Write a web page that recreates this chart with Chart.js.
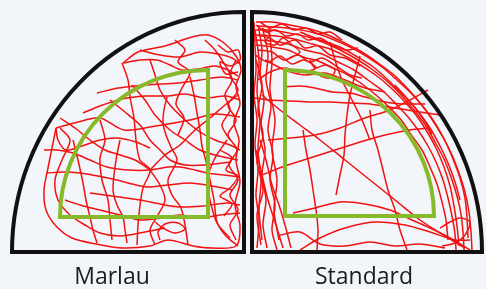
<!DOCTYPE html>
<html>
<head>
<meta charset="utf-8">
<script src="https://cdn.jsdelivr.net/npm/chart.js@4"></script>
<style>
  body { margin: 0; background: #f2f5f9; }
  #wrap { position: relative; width: 486px; height: 289px; }
  .lbl { position: absolute; top: 264px; font: 23px "Open Sans", "Noto Sans", sans-serif; line-height: 22px; color: #1c1c1c; text-align: center; }
</style>
</head>
<body>
<div id="wrap">
  <canvas id="tracks"></canvas>
  <div class="lbl" style="left:12px;width:200px">Marlau</div>
  <div class="lbl" style="left:264px;width:200px">Standard</div>
</div>
<script>
// panel names
var panels = ["Marlau", "Standard"];

// swim paths, [x, y] in picture units
var marlauTracks = [
  [[123,63],[138,52],[165,46],[192,37],[208,35],[224,43],[236,56],[241,70],[236,86],[240,104],[234,122],[239,140],[236,160],[240,182],[235,205],[240,226],[236,246],[212,248],[193,246],[168,240],[150,246],[122,248],[96,244],[72,238],[56,226],[46,210],[44,190],[48,168],[52,148],[56,128]],
  [[56,128],[78,122],[100,118],[124,130],[156,126],[190,120],[215,114],[240,117]],
  [[97,93],[118,88],[135,86],[160,84],[178,83],[200,80],[222,77],[238,80]],
  [[83,113],[100,106],[122,99],[145,96],[168,96],[185,94],[205,98],[226,96],[240,100]],
  [[122,63],[128,80],[130,97],[134,118],[136,140],[140,160],[150,170],[143,188],[140,205],[138,225],[137,245]],
  [[140,50],[160,55],[180,57],[200,52],[218,54],[232,58],[240,64]],
  [[123,63],[140,60],[157,60],[170,65],[182,70],[198,69],[214,66],[228,70],[238,76]],
  [[190,77],[194,95],[197,113],[200,130],[202,146],[207,165],[210,180],[214,200],[217,222],[226,236],[238,246]],
  [[167,97],[164,110],[163,123],[166,135],[171,147],[177,160],[168,180],[172,195],[181,208],[185,225],[188,245]],
  [[44,150],[57,150],[73,153],[90,160],[107,167],[128,170],[150,170],[168,167],[180,167],[195,170],[207,173],[224,175],[240,177]],
  [[47,173],[63,172],[80,173],[98,176],[117,180],[132,184],[147,187],[168,185],[190,183],[212,186],[233,190]],
  [[73,140],[78,160],[83,183],[86,200],[90,217],[93,230],[97,243]],
  [[120,140],[116,160],[113,190],[117,205],[123,217],[125,230],[127,243]],
  [[90,193],[112,196],[140,200],[160,204],[180,207],[203,206],[227,203],[240,205]],
  [[227,140],[215,158],[207,180],[210,200],[217,223],[230,238]],
  [[155,222],[163,228],[175,233],[185,229],[178,223],[165,224],[158,232],[160,240]],
  [[60,128],[70,140],[62,160],[55,180],[58,200],[70,215],[85,225],[100,233],[120,236],[145,232],[165,228]],
  [[100,120],[105,140],[100,158],[102,180],[108,200],[110,220],[112,240]],
  [[150,60],[155,75],[160,90],[170,105],[185,120],[200,132],[215,140],[230,145],[240,150]],
  [[132,85],[145,100],[155,115],[170,130],[185,140],[200,150],[215,155],[238,160]],
  [[110,100],[125,112],[140,125],[150,140],[160,150],[170,160],[185,165],[205,165],[230,162]],
  [[56,128],[58,140],[66,150],[82,146],[100,140],[118,138],[136,142],[150,148]],
  [[65,200],[80,205],[100,210],[120,215],[140,220],[160,218],[180,215],[200,218],[220,215],[240,213]],
  [[205,40],[215,50],[225,65],[232,80],[225,95],[230,110],[222,125],[230,140]],
  [[236,60],[230,75],[238,90],[228,105],[236,120],[228,135],[237,150],[229,165],[238,180],[230,195],[238,210],[230,225],[236,240]],
  [[150,170],[160,185],[165,200],[158,215],[150,230],[155,245]],
  [[150,170],[135,160],[120,155],[105,150],[90,140],[75,128],[60,118]],
  [[150,170],[165,155],[180,145],[195,130],[210,118],[225,105],[238,95]],
  [[218,45],[228,52],[238,50],[240,60],[230,66],[220,62],[226,74],[238,72]],
  [[175,40],[185,50],[178,62],[190,72],[182,88],[176,104],[184,118],[178,135]],
  [[220,150],[232,158],[226,170],[238,176],[230,188],[220,196],[232,204],[224,216]]
];

var standardTracks = [
  [[256,22],[272,22],[290,25],[310,29],[328,35],[345,43],[362,52],[378,63],[394,75],[408,89],[421,104],[433,120],[443,137],[452,155],[459,173],[465,192],[469,212],[471,232],[472,250]],
  [[255,30],[270,30],[289,33],[308,37],[325,43],[342,51],[358,60],[373,70],[388,82],[402,96],[414,110],[426,126],[435,142],[444,159],[451,177],[457,196],[461,214],[463,232],[464,250]],
  [[255,40],[272,41],[288,44],[305,50],[322,54],[338,62],[354,70],[368,80],[383,91],[396,104],[408,117],[418,130],[428,146],[436,162],[443,180],[448,198],[452,216],[455,234],[456,250]],
  [[257,26],[275,27],[295,29],[315,33],[332,39],[350,47],[366,56],[382,67],[397,80],[411,93],[424,108],[435,124],[445,141],[453,159],[460,178],[465,198],[467,218],[468,238]],
  [[258,35],[276,36],[294,39],[312,44],[330,49],[347,57],[362,66],[377,76],[391,88],[404,101],[416,115],[426,130],[436,148],[444,167],[450,186],[454,206],[457,226],[459,246]],
  [[256,45],[272,47],[288,50],[303,57],[318,61],[333,68],[348,75],[362,84],[376,95],[390,108],[402,121],[412,136],[422,150],[430,167],[437,184],[442,202],[446,220],[448,240]],
  [[300,32],[320,40],[340,47],[356,56],[372,66],[386,78],[398,90],[412,104],[424,120],[432,134]],
  [[395,85],[405,96],[417,110],[430,128],[440,146],[448,163],[455,182],[460,200]],
  [[254,22],[255,45],[256,70],[254,95],[257,120],[255,145],[258,170],[256,195],[259,220],[257,248]],
  [[258,25],[262,50],[260,75],[264,100],[261,125],[265,150],[262,175],[266,200],[263,225],[267,248]],
  [[263,30],[268,55],[266,80],[271,105],[268,130],[273,155],[270,180],[275,205],[272,230],[277,250]],
  [[255,30],[259,60],[257,90],[260,120],[258,150],[261,180],[259,210],[262,240]],
  [[269,28],[272,60],[270,90],[275,120],[272,150],[277,180],[274,210],[279,240]],
  [[256,60],[262,85],[258,110],[263,135],[257,160],[263,190],[257,215],[261,245]],
  [[260,140],[266,160],[272,185],[279,205],[285,225],[291,248]],
  [[256,150],[262,175],[268,200],[276,225],[283,248]],
  [[256,35],[270,38],[280,45],[295,40],[305,48],[318,46],[330,55],[345,58],[360,66]],
  [[258,50],[272,52],[284,60],[298,55],[310,62],[322,58],[336,66],[350,75],[362,78]],
  [[262,28],[270,35],[265,42],[275,45],[283,38],[292,45],[300,52],[290,58]],
  [[260,22],[270,28],[282,24],[294,30],[306,28],[318,34],[330,32],[342,40]],
  [[255,55],[268,62],[280,56],[292,64],[304,60],[316,68],[300,72],[285,68],[270,72],[258,80]],
  [[256,25],[266,32],[276,30],[286,36],[298,34],[308,40],[320,38],[332,45],[346,50],[358,48]],
  [[310,60],[315,68],[325,65],[335,70],[330,78],[320,76]],
  [[255,98],[270,100],[290,101],[310,102],[330,102],[350,103],[370,104],[395,108],[420,112],[440,115]],
  [[285,87],[300,86],[315,88],[332,92],[350,93],[365,97],[385,102],[405,104],[425,104]],
  [[262,175],[285,166],[310,158],[335,150],[360,142],[385,135],[410,130],[430,128]],
  [[268,140],[290,138],[315,135],[340,128],[365,118],[390,110],[410,100],[428,90]],
  [[303,130],[306,150],[310,170],[313,190],[316,210],[318,230],[317,250]],
  [[370,110],[372,130],[378,150],[383,170],[388,190],[395,210],[400,230],[407,250]],
  [[293,213],[315,208],[340,202],[365,204],[390,210],[412,220],[430,228],[450,238],[470,250]],
  [[262,95],[280,110],[300,125],[320,140],[345,160],[370,180],[395,200],[420,220],[445,236],[465,248]],
  [[300,250],[320,238],[345,228],[375,222],[405,225],[430,232],[455,240],[470,240]],
  [[360,56],[355,75],[350,95],[347,115],[345,135],[344,155],[340,175],[336,195]],
  [[330,42],[335,60],[342,80],[352,100],[362,120],[370,140]],
  [[265,60],[285,70],[305,75],[325,73],[345,80],[365,88],[385,92]],
  [[440,228],[450,222],[460,218],[470,222],[465,235],[455,243],[442,246]],
  [[280,235],[300,232],[320,244],[345,246],[370,242],[395,246],[420,244],[445,248]]
];

var datasets = [];
[marlauTracks, standardTracks].forEach(function(group, g) {
  group.forEach(function(path) {
    datasets.push({
      label: panels[g],
      data: path.map(function(p) { return { x: p[0], y: p[1] }; }),
      showLine: true,
      borderColor: "rgb(242,18,18)",
      borderWidth: 1.5,
      pointRadius: 0,
      tension: 0.3,
      fill: false
    });
  });
});

// arena walls and target zone, drawn on top of the paths
var arenaPlugin = {
  id: "arena",
  beforeDraw: function(chart) {
    var c = chart.ctx;
    c.save();
    c.fillStyle = "#f2f5f9";
    c.fillRect(0, 0, chart.width, chart.height);
    c.restore();
  },
  afterDatasetsDraw: function(chart) {
    var c = chart.ctx, xs = chart.scales.x, ys = chart.scales.y;
    function px(v) { return xs.getPixelForValue(v); }
    function py(v) { return ys.getPixelForValue(v); }
    c.save();
    c.lineJoin = "miter";

    // green target quadrants
    c.strokeStyle = "#86ba2a";
    c.lineWidth = 4;
    c.beginPath();
    c.ellipse(px(208), py(217), 148, 147, 0, -Math.PI / 2, -Math.PI, true);
    c.lineTo(px(208), py(217));
    c.closePath();
    c.stroke();
    c.beginPath();
    c.ellipse(px(285), py(216), 149, 146, 0, -Math.PI / 2, 0, false);
    c.lineTo(px(285), py(216));
    c.closePath();
    c.stroke();

    // black walls
    c.strokeStyle = "#111";
    c.lineWidth = 4;
    c.beginPath();
    c.ellipse(px(244), py(252), 232, 240, 0, -Math.PI / 2, -Math.PI, true);
    c.lineTo(px(244), py(252));
    c.closePath();
    c.stroke();
    c.beginPath();
    c.ellipse(px(252), py(252), 230, 240, 0, -Math.PI / 2, 0, false);
    c.lineTo(px(252), py(252));
    c.closePath();
    c.stroke();
    c.restore();
  }
};

var ctx = document.getElementById("tracks");
ctx.width = 486; ctx.height = 289;
var trackChart = new Chart(ctx, {
  type: "scatter",
  data: { datasets: datasets },
  options: {
    responsive: false,
    animation: false,
    layout: { padding: 0 },
    plugins: { legend: { display: false }, tooltip: { enabled: false } },
    scales: {
      x: { type: "linear", min: 0, max: 486, display: false },
      y: { type: "linear", min: 0, max: 289, reverse: true, display: false }
    }
  },
  plugins: [arenaPlugin]
});
</script>
</body>
</html>
